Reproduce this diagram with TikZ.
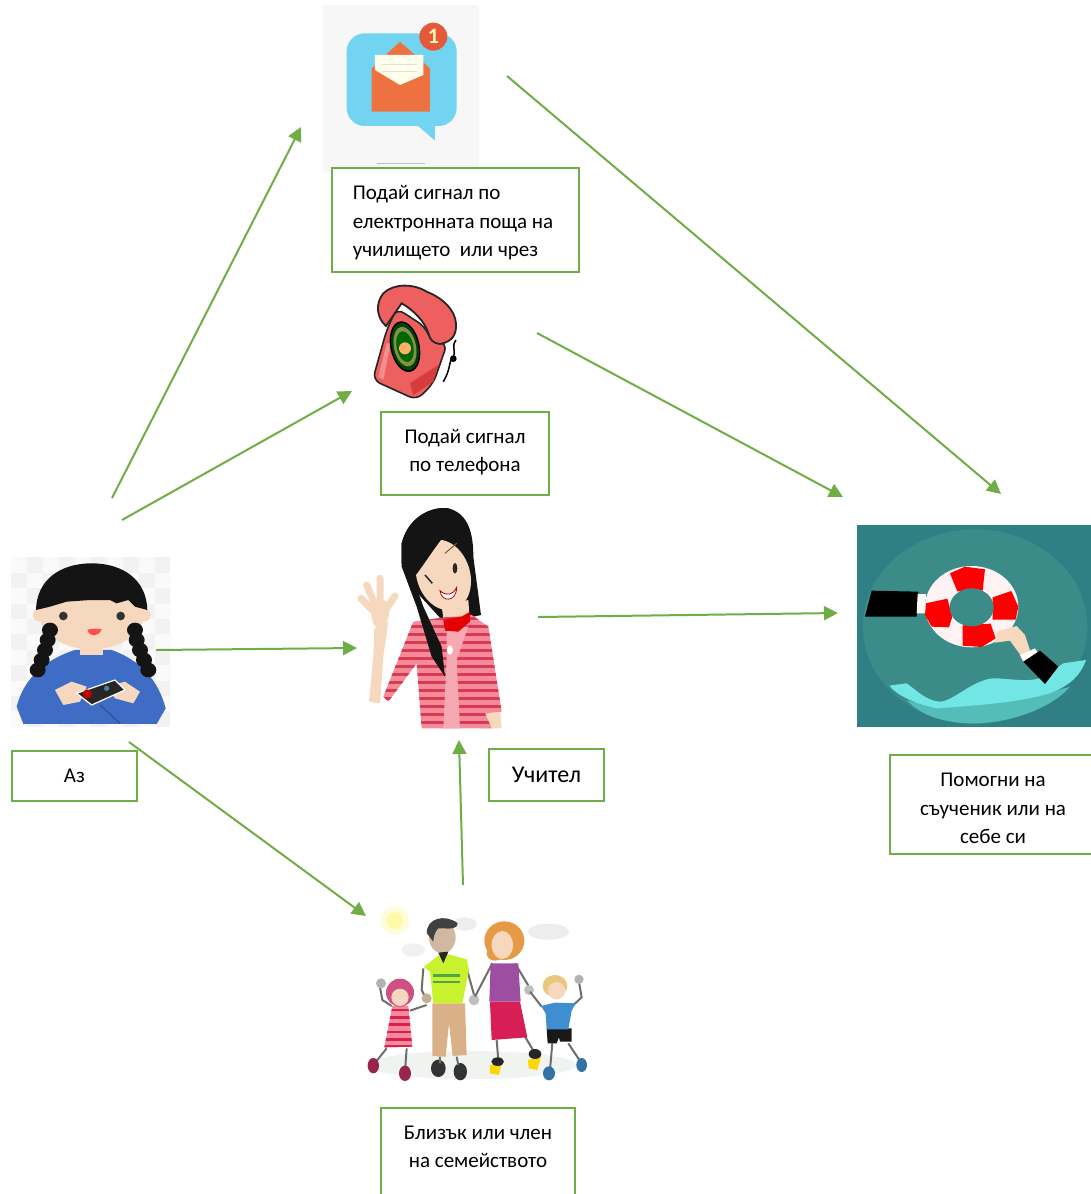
\documentclass[tikz,border=0pt]{standalone}
\usepackage{fontspec}
\setmainfont{Carlito}
\usetikzlibrary{arrows.meta}
\definecolor{grn}{HTML}{70AD47}
\definecolor{skin}{HTML}{F6D8BE}
\definecolor{tealbg}{HTML}{2F7F84}
\definecolor{tealc}{HTML}{3B8C89}
\definecolor{bubble}{HTML}{73D4F2}
\definecolor{envel}{HTML}{EE7240}
\definecolor{badge}{HTML}{E5593A}
\definecolor{phred}{HTML}{EE5F5F}
\definecolor{phdark}{HTML}{D63C3C}
\definecolor{phlight}{HTML}{F58F8F}
\definecolor{jumper}{HTML}{3F6CC4}
\definecolor{stripeA}{HTML}{F58B98}
\definecolor{stripeB}{HTML}{D63A55}
\definecolor{shirtp}{HTML}{F6A9B3}
\definecolor{wave}{HTML}{72E6E4}
\definecolor{bowl}{HTML}{55BDB7}
\definecolor{lime}{HTML}{C8F22E}
\definecolor{khaki}{HTML}{D9B088}
\definecolor{crimson}{HTML}{D81F55}
\definecolor{violet}{HTML}{9C4FA0}
\definecolor{redhair}{HTML}{E79A45}
\definecolor{pinkhair}{HTML}{CF4F80}
\definecolor{boyblue}{HTML}{3F8FD0}
\definecolor{blond}{HTML}{EBC77E}
\definecolor{limb}{HTML}{6E6E6E}
\newcommand\liftline[2]{\raisebox{#1}[0pt][0pt]{#2}}
\tikzset{
  box/.style={draw=grn,line width=2.4pt,fill=white,inner sep=0pt,align=center,
    font=\fontsize{21}{28.5}\selectfont,text=black},
  conn/.style={draw=grn,line width=2pt,-{Triangle[length=14pt,width=14pt]}},
  zoomed/.style={x=0.3333pt,y=-0.3333pt},
}
\begin{document}
\begin{tikzpicture}[x=1pt,y=-1pt]
\useasboundingbox (0,0) rectangle (1091,1194);
\clip (0,0) rectangle (1091,1194);
\fill[white] (0,0) rectangle (1091,1194);

% --- mail picture
\begin{scope}[shift={(320,0)},zoomed]
\fill[black!3] (9,15) rectangle (477,518);
\fill[bubble] (345,370) -- (345,422) -- (285,370) -- cycle;
\fill[bubble,rounded corners=18pt] (80,100) rectangle (410,378);
\fill[envel] (155,205) -- (240,125) -- (330,205) -- (330,335) -- (155,335) -- cycle;
\fill[white!92!yellow] (165,165) -- (310,165) -- (310,225) -- (240,255) -- (165,210) -- cycle;
\draw[black!12,line width=1pt] (185,195) -- (290,195) (185,215) -- (290,215);
\fill[badge] (340,110) circle[radius=42];
\node[text=yellow!30!white,font=\fontsize{22}{22}\bfseries\selectfont] (badgetext) at (340,110) {1};
\draw[black!25,line width=1.2pt] (170,490) -- (315,490);
\end{scope}

% --- phone picture
\begin{scope}[shift={(350,280)},zoomed]
\filldraw[fill=phred,draw=black!85,line width=1.6pt,rounded corners=8pt]
  (140,85) -- (225,140) -- (245,185) -- (292,190) -- (250,310) -- (200,360) -- (68,300) -- (110,150) -- cycle;
\filldraw[fill=phred,draw=black!85,line width=1.8pt]
  (108,138) .. controls (80,115) and (75,70) .. (100,40) .. controls (130,10) and (190,10) .. (230,35)
  .. controls (280,55) and (315,90) .. (318,130) .. controls (320,160) and (310,185) .. (270,192)
  .. controls (250,190) and (240,180) .. (235,160) .. controls (225,125) and (190,90) .. (155,70) -- (108,138) -- cycle;
\fill[phlight] (85,290) -- (110,190) -- (122,190) -- (100,300) -- cycle;
\fill[phdark] (190,345) -- (250,305) -- (265,255) -- (180,310) -- cycle;
\filldraw[fill=black!75!green,draw=black,line width=1.4pt,rotate around={12:(165,200)}] (165,200) ellipse[x radius=42,y radius=75];
\fill[yellow!60!green!60!black,rotate around={12:(165,200)}] (165,200) ellipse[x radius=33,y radius=60];
\fill[black!60!green,rotate around={12:(165,200)}] (165,200) ellipse[x radius=25,y radius=47];
\fill[orange!60!white] (165,205) circle[radius=18];
\draw[black,line width=1.5pt] (318,180) .. controls (300,205) and (325,215) .. (305,235) .. controls (295,260) and (300,270) .. (280,305);
\fill[black] (310,236) circle[radius=10];
\end{scope}

% --- girl (me)
\begin{scope}[shift={(0,550)},zoomed]
\fill[black!5] (33,22) rectangle (510,530);
\foreach \i in {0,...,9}{\foreach \j in {0,...,10}{
  \pgfmathparse{int(mod(\i+\j,2))}
  \ifnum\pgfmathresult=0 \fill[black!2] ({33+\i*48},{22+\j*46.2}) rectangle ++(47.7,46.2);\fi
}}
\fill[jumper]
  (50,470) .. controls (70,390) and (130,330) .. (225,300) -- (335,300) .. controls (420,330) and (475,390) .. (497,475) -- (470,522) -- (70,522) -- cycle;
\fill[skin] (240,280) rectangle (310,315);
\fill[skin] (118,195) circle[radius=20];
\fill[skin] (432,195) circle[radius=20];
\fill[skin] (275,195) ellipse[x radius=155,y radius=103];
\fill[black!92] (108,180) .. controls (110,90) and (180,40) .. (275,40) .. controls (370,40) and (440,90) .. (442,180) -- (405,170) -- (385,150) -- (350,160) -- (330,150) -- (270,150) -- (200,155) -- (150,170) -- cycle;
\foreach \p in {(150,240),(143,270),(135,300),(125,330),(113,360)}{\fill[black!92] \p ellipse[x radius=24,y radius=22];}
\foreach \p in {(405,240),(410,270),(420,300),(432,330),(445,360)}{\fill[black!92] \p ellipse[x radius=24,y radius=22];}
\fill[black!80] (190,198) circle[radius=13];
\fill[black!80] (362,198) circle[radius=13];
\fill[red!70!white] (262,240) .. controls (275,235) and (290,235) .. (305,238) .. controls (295,262) and (270,262) .. (262,240) -- cycle;
\fill[skin] (165,420) -- (215,395) -- (260,410) -- (240,455) -- (190,465) -- cycle;
\fill[skin] (320,410) -- (375,395) -- (420,425) -- (400,460) -- (345,445) -- cycle;
\filldraw[fill=black!85,draw=white,line width=1.2pt] (230,430) -- (345,390) -- (375,420) -- (275,465) -- cycle;
\fill[red!75!black] (262,432) circle[radius=14];
\fill[cyan!60!black] (320,415) circle[radius=8];
\draw[jumper!70!black,line width=1pt] (300,465) -- (360,520);
\end{scope}

% --- teacher
\begin{scope}[shift={(345,500)},zoomed]
\fill[black!92] (170,130) .. controls (190,50) and (260,18) .. (310,25) .. controls (370,40) and (385,100) .. (385,170) -- (408,345) -- (300,370) -- (200,260) -- (170,190) -- cycle;
\fill[skin] (290,320) -- (370,300) -- (375,370) -- (300,385) -- cycle;
% waving hand and arm
\draw[skin,line width=7pt,line cap=round] (82,330) -- (48,295) (92,320) -- (65,255) (105,320) -- (105,235) (122,330) -- (150,288);
\fill[skin,rounded corners=8pt] (70,300) -- (135,300) -- (130,370) -- (88,390) -- cycle;
\fill[skin] (88,385) -- (130,365) -- (115,470) -- (105,610) -- (72,605) -- (85,470) -- cycle;
\fill[skin] (415,630) -- (465,625) -- (470,685) -- (405,685) -- cycle;
\begin{scope}
\clip (205,365) -- (300,352) -- (380,345) -- (430,380) -- (470,635) -- (420,640) -- (440,685) -- (230,685) -- (215,490) -- (130,605) -- (115,590) -- cycle;
\fill[stripeA] (100,340) rectangle (480,690);
\foreach \y in {355,379,...,695}{\draw[stripeB,line width=3.3pt] (100,\y) -- (480,\y);}
\fill[shirtp] (305,380) -- (370,380) -- (335,480) -- (345,685) -- (295,685) -- (305,480) -- cycle;
\end{scope}
\fill[red!90!black] (295,360) -- (350,350) -- (375,335) -- (375,365) -- (340,395) -- (300,392) -- cycle;
\fill[skin,rotate around={18:(295,225)}] (295,225) ellipse[x radius=80,y radius=108];
\fill[black!92] (170,130) .. controls (190,50) and (260,18) .. (310,25) .. controls (345,35) and (335,85) .. (300,105) .. controls (270,140) and (240,190) .. (205,235) -- (235,320) -- (290,440) -- (300,530) -- (260,470) -- (215,320) -- (170,200) -- cycle;
\draw[black!85,line width=1.5pt] (240,225) -- (262,250);
\fill[black!85] (330,205) ellipse[x radius=7,y radius=16];
\draw[brown!70!black,line width=1pt] (300,160) -- (335,130);
\fill[white,draw=red!70!black,line width=0.8pt] (285,272) .. controls (305,290) and (325,285) .. (335,262) .. controls (335,305) and (290,310) .. (285,272) -- cycle;
\fill[white] (315,450) ellipse[x radius=9,y radius=14];
\end{scope}

% --- lifebuoy
\begin{scope}[shift={(850,520)},zoomed]
\fill[tealbg] (20,15) rectangle (723,622);
\begin{scope}
\clip (20,15) rectangle (723,622);
\fill[tealc] (375,320) ellipse[x radius=337,y radius=292];
\end{scope}
\fill[bowl] (170,540) .. controls (260,570) and (500,550) .. (660,500) .. controls (600,570) and (470,610) .. (370,610) .. controls (280,610) and (210,585) .. (170,540) -- cycle;
\fill[wave] (118,497) -- (170,490) .. controls (210,520) and (235,545) .. (275,545) .. controls (320,535) and (370,480) .. (430,475) .. controls (480,475) and (540,490) .. (580,470) -- (640,430) -- (708,420) .. controls (690,470) and (660,495) .. (600,520) .. controls (500,548) and (400,555) .. (260,565) .. controls (190,550) and (140,525) .. (118,497) -- cycle;
\fill[black] (65,212) -- (205,215) -- (200,290) -- (45,290) -- cycle;
\fill[white!85!skin] (203,222) -- (228,222) -- (225,280) -- (200,280) -- cycle;
\fill[white!95!red] (365,260) ellipse[x radius=140,y radius=122];
\fill[red] (300,160) -- (345,140) -- (405,148) -- (398,212) -- (322,214) -- cycle;
\fill[red] (484,213) -- (505,260) -- (497,299) -- (428,299) -- (428,232) -- cycle;
\fill[red] (228,250) -- (292,236) -- (307,290) -- (297,322) -- (245,320) -- (225,285) -- cycle;
\fill[red] (338,316) -- (422,311) -- (437,355) -- (395,381) -- (338,377) -- cycle;
\fill[tealc] (365,262) ellipse[x radius=66,y radius=57];
\fill[skin] (440,335) -- (500,318) -- (525,345) -- (540,390) -- (515,410) -- (480,362) -- (435,368) -- cycle;
\fill[white] (510,405) -- (555,385) -- (565,400) -- (520,425) -- cycle;
\fill[black] (520,425) -- (570,392) -- (625,440) -- (585,492) -- cycle;
\end{scope}

% --- family
\begin{scope}[shift={(355,900)},zoomed]
\fill[yellow!15!white] (120,62) circle[radius=42];
\fill[yellow!35!white] (120,62) circle[radius=25];
\fill[blue!15!black!7] (580,95) ellipse[x radius=62,y radius=24];
\fill[blue!15!black!7] (330,72) ellipse[x radius=35,y radius=20];
\fill[blue!15!black!6] (175,150) ellipse[x radius=35,y radius=20];
\fill[green!25!black!6] (350,495) ellipse[x radius=315,y radius=42];
% man
\draw[limb,line width=2pt] (205,205) -- (200,270) -- (215,300) (335,205) -- (360,295);
\fill[skin!80!black] (215,295) circle[radius=15];
\fill[black!25] (357,300) circle[radius=16];
\fill[khaki] (232,310) -- (330,310) -- (335,465) -- (293,468) -- (282,370) -- (272,470) -- (232,468) -- cycle;
\fill[lime] (207,200) -- (262,158) -- (335,178) -- (342,210) -- (322,310) -- (235,310) -- (225,215) -- cycle;
\fill[green!50!black!70] (235,222) rectangle (315,232);
\fill[green!50!black!70] (235,243) rectangle (315,250);
\fill[skin!85!black] (262,112) ellipse[x radius=40,y radius=48];
\fill[black!75] (216,100) .. controls (212,55) and (272,40) .. (308,70) .. controls (305,90) and (285,85) .. (250,85) .. controls (240,95) and (235,110) .. (235,125) -- cycle;
\fill[black!85] (250,158) -- (280,155) -- (265,190) -- cycle;
\fill[black!80] (250,505) ellipse[x radius=22,y radius=26];
\fill[black!80] (316,515) ellipse[x radius=20,y radius=26];
\draw[limb,line width=2pt] (255,470) -- (255,490) (305,470) -- (310,495);
% woman
\draw[limb,line width=2pt] (412,190) -- (360,290) (480,190) -- (525,265) (425,420) -- (430,480) (510,410) -- (540,460);
\fill[yellow!75!orange] (405,495) -- (440,490) -- (432,525) -- (405,520) -- cycle;
\fill[yellow!75!orange] (518,480) -- (558,470) -- (547,510) -- (522,505) -- cycle;
\fill[black!85] (428,485) ellipse[x radius=19,y radius=13];
\fill[black!85] (540,462) ellipse[x radius=19,y radius=15];
\fill[crimson] (405,305) -- (495,305) -- (517,412) -- (410,420) -- cycle;
\fill[violet] (407,190) -- (490,190) -- (497,305) -- (403,305) -- cycle;
\fill[redhair] (448,122) ellipse[x radius=60,y radius=58];
\fill[redhair] (420,160) ellipse[x radius=25,y radius=22];
\fill[skin] (442,135) ellipse[x radius=32,y radius=42];
\fill[black!25] (522,270) circle[radius=15];
% little girl
\draw[limb,line width=2pt] (110,318) -- (82,300) -- (75,262) (165,332) -- (215,315) (95,445) -- (55,495) (155,445) -- (150,515);
\fill[black!30] (78,250) circle[radius=15];
\fill[purple!70!black!85] (55,497) ellipse[x radius=17,y radius=23];
\fill[purple!70!black!85] (150,520) ellipse[x radius=18,y radius=23];
\begin{scope}
\clip (112,318) -- (160,318) -- (172,440) -- (88,442) -- cycle;
\fill[stripeA] (80,310) rectangle (180,445);
\foreach \y in {330,352,...,440}{\draw[crimson,line width=2.5pt] (80,\y) -- (180,\y);}
\end{scope}
\fill[pinkhair] (135,278) ellipse[x radius=42,y radius=42];
\fill[skin] (135,292) ellipse[x radius=26,y radius=26];
% boy
\draw[limb,line width=2pt] (560,320) -- (525,275) (650,320) -- (680,292) -- (672,245) (592,430) -- (585,510) (640,430) -- (680,490);
\fill[black!30] (672,238) circle[radius=14];
\fill[boyblue!80!black] (582,520) ellipse[x radius=18,y radius=21];
\fill[boyblue!80!black] (680,495) ellipse[x radius=16,y radius=21];
\fill[black!90] (575,385) -- (650,385) -- (650,425) -- (615,425) -- (612,412) -- (605,430) -- (578,430) -- cycle;
\fill[boyblue] (558,318) -- (600,308) -- (662,310) -- (650,332) -- (640,388) -- (575,388) -- (572,340) -- cycle;
\fill[blond] (600,258) ellipse[x radius=37,y radius=33];
\fill[skin] (605,272) ellipse[x radius=26,y radius=26];
\end{scope}

% --- boxes
\node[box,minimum width=247pt,minimum height=104pt,align=left] (mailbox) at (455.5,220) {\liftline{-8pt}{Подай сигнал по}\\\liftline{-8pt}{електронната поща на}\\\liftline{-8pt}{училището\ \ или чрез}\kern20pt};
\node[box,minimum width=168pt,minimum height=83pt] (phonebox) at (465,453.5) {\liftline{-4pt}{Подай сигнал}\\\liftline{-4pt}{по телефона}};
\node[box,minimum width=125pt,minimum height=50pt] (mebox) at (74.5,776) {Аз};
\node[box,minimum width=115pt,minimum height=52pt,font=\fontsize{24}{24}\selectfont] (teacherbox) at (546.5,775) {Учител};
\node[box,minimum width=220pt,minimum height=99pt] (helpbox) at (1000,804.5) {\liftline{-10.5pt}{Помогни на}\kern14pt\\\liftline{-10.5pt}{съученик или на}\kern14pt\\\liftline{-10.5pt}{себе си}\kern14pt};
\node[box,minimum width=194pt,minimum height=106pt] (familybox) at (478,1161) {Близък или член\\на семейството\\\ };

% --- connector ends
\coordinate (a1) at (112,498); \coordinate (a2) at (301,127);
\coordinate (b1) at (122,520); \coordinate (b2) at (352,391);
\coordinate (c1) at (156,650); \coordinate (c2) at (357,648);
\coordinate (d1) at (129,742); \coordinate (d2) at (366,916);
\coordinate (e1) at (463,885); \coordinate (e2) at (459,740);
\coordinate (f1) at (538,617); \coordinate (f2) at (838,613);
\coordinate (g1) at (537,333); \coordinate (g2) at (843,497);
\coordinate (h1) at (507,76);  \coordinate (h2) at (1001,494);
\foreach \p/\q in {a1/a2,b1/b2,c1/c2,d1/d2,e1/e2,f1/f2,g1/g2,h1/h2}{\draw[conn] (\p) -- (\q);}
\end{tikzpicture}
\end{document}
